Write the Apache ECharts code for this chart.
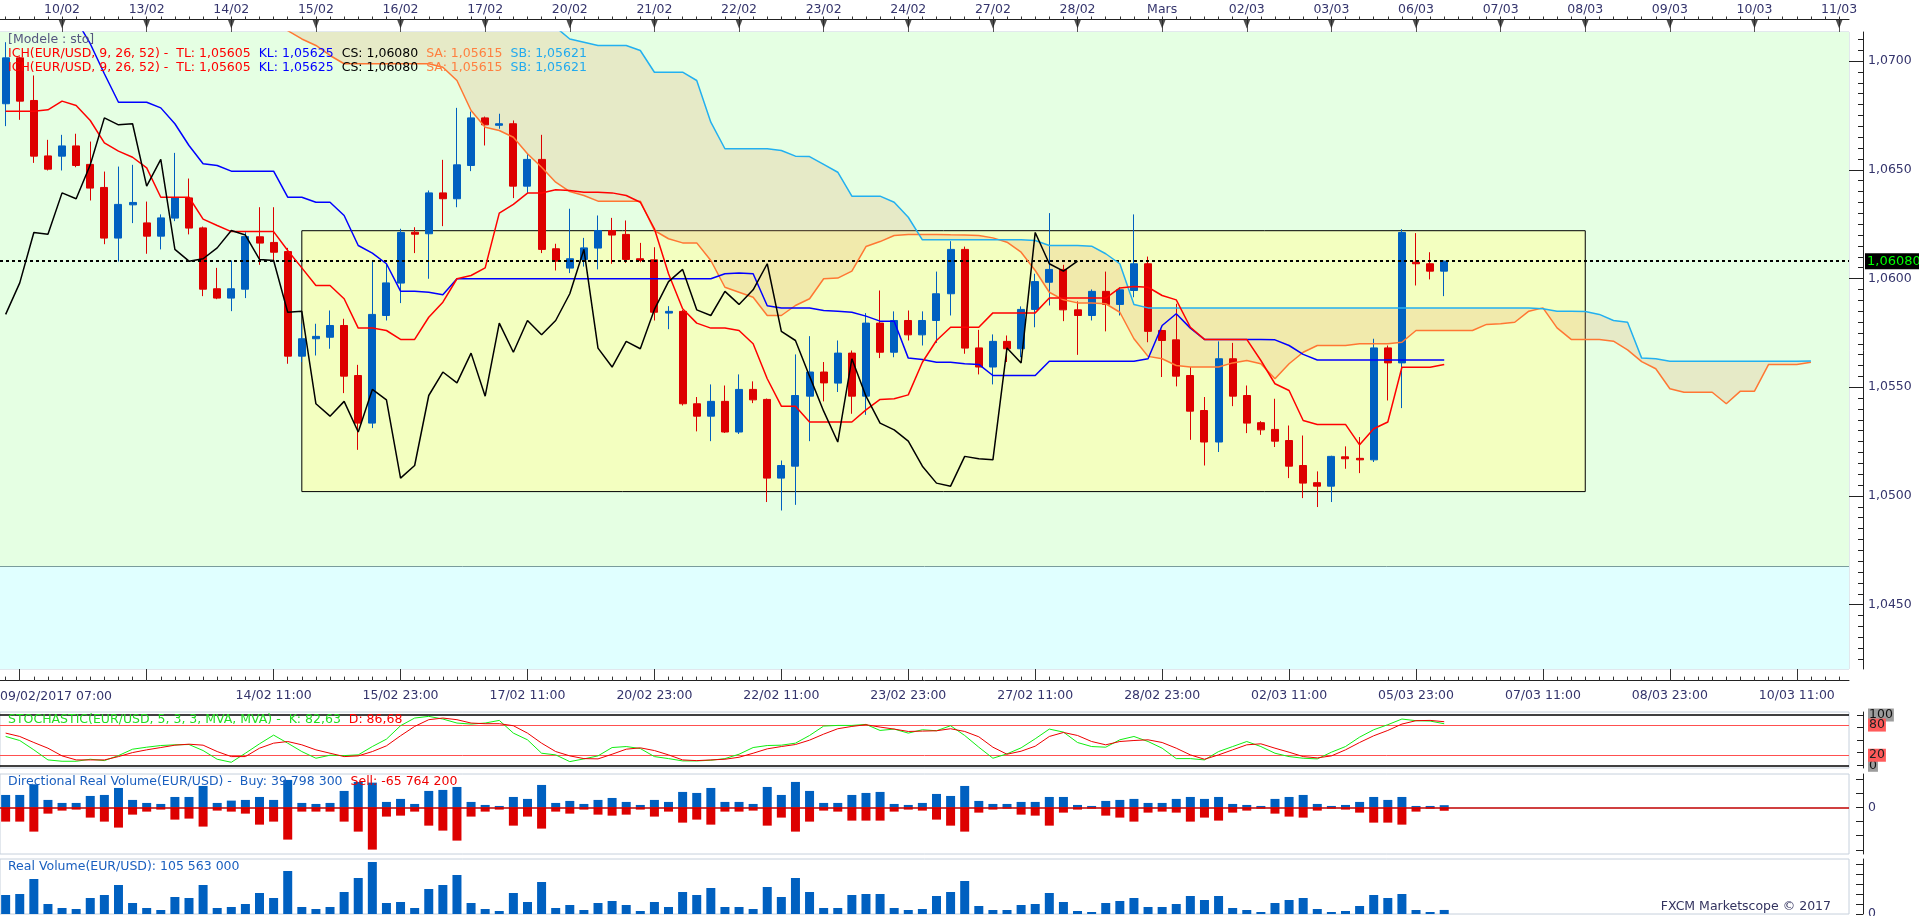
<!DOCTYPE html>
<html><head><meta charset="utf-8">
<script src="https://cdn.jsdelivr.net/npm/echarts@6/dist/echarts.min.js"></script>
<style>html,body{margin:0;padding:0;background:#fff;overflow:hidden}#c{width:1919px;height:916px}</style>
</head><body><div id="c"></div>
<script>
// ---------- DATA (EUR/USD H4, 09/02/2017 07:00 -> 06/03/2017 07:00) ----------
const opens = [1.06804,1.07015,1.06819,1.06564,1.06563,1.0661,1.06525,1.06419,1.06186,1.06339,
 1.06256,1.06195,1.06278,1.06371,1.06233,1.05953,1.0591,1.05951,1.06192,1.06166,
 1.06124,1.05643,1.05723,1.0573,1.05784,1.05554,1.05335,1.0583,1.05979,1.06213,
 1.06206,1.06394,1.06367,1.0652,1.06739,1.06705,1.06712,1.06425,1.06548,1.06137,
 1.06048,1.06088,1.0614,1.06221,1.06203,1.06091,1.06086,1.05841,1.05849,1.05424,
 1.05367,1.05435,1.05294,1.0549,1.05444,1.05082,1.05137,1.05459,1.0557,1.05519,
 1.05657,1.05459,1.05795,1.05661,1.05807,1.05741,1.05807,1.0593,1.06134,1.05681,
 1.05593,1.05711,1.05677,1.05858,1.05983,1.06042,1.05856,1.0583,1.05941,1.05881,
 1.05945,1.06068,1.05761,1.05718,1.05554,1.05393,1.05248,1.05631,1.05462,1.05337,
 1.05306,1.05255,1.0514,1.05061,1.05045,1.0518,1.05173,1.05166,1.05681,1.05612,
 1.06075,1.06068,1.06034];
const closes = [1.07015,1.06816,1.06563,1.06503,1.0661,1.0652,1.06416,1.06186,1.06341,1.0635,
 1.06195,1.06279,1.06371,1.06232,1.05951,1.0591,1.05953,1.06193,1.06163,1.06121,
 1.05643,1.05723,1.05734,1.05784,1.05551,1.05335,1.05835,1.0598,1.06212,1.06204,
 1.06394,1.06367,1.06523,1.06739,1.06707,1.06712,1.06425,1.06548,1.06134,1.0608,
 1.06091,1.06141,1.06221,1.062,1.06088,1.06083,1.05845,1.05849,1.05424,1.05367,
 1.05435,1.05294,1.0549,1.05442,1.05082,1.0514,1.05462,1.0557,1.0552,1.05657,
 1.05459,1.05795,1.05661,1.05807,1.05741,1.05807,1.0593,1.06134,1.0568,1.05593,
 1.05711,1.05677,1.05858,1.05986,1.06042,1.05856,1.0583,1.05941,1.05881,1.05948,
 1.06068,1.05757,1.05715,1.05551,1.0539,1.05248,1.05631,1.05459,1.05335,1.05304,
 1.05252,1.05137,1.05059,1.05045,1.05182,1.05171,1.05166,1.05681,1.05612,1.06212,
 1.06068,1.06034,1.0608];
const lows = [1.06701,1.0673,1.06532,1.06497,1.06497,1.06512,1.06359,1.06158,1.06078,1.06255,
 1.06114,1.06134,1.06264,1.06203,1.05919,1.05905,1.0585,1.0591,1.06063,1.06083,
 1.05608,1.05616,1.05646,1.05677,1.05473,1.05212,1.05312,1.05807,1.05887,1.06117,
 1.05999,1.06241,1.06328,1.06494,1.06612,1.06689,1.0637,1.06394,1.06117,1.06037,
 1.06025,1.06055,1.06042,1.06068,1.06072,1.06075,1.05807,1.05767,1.05416,1.05297,
 1.05252,1.0529,1.05285,1.05427,1.04972,1.04933,1.04959,1.05252,1.05435,1.05478,
 1.05378,1.05373,1.05634,1.05638,1.05715,1.05692,1.05704,1.0583,1.05654,1.05559,
 1.05513,1.05616,1.05638,1.05776,1.05876,1.05804,1.05649,1.05807,1.05757,1.0583,
 1.05914,1.05707,1.05547,1.05504,1.05258,1.0514,1.05202,1.05413,1.05289,1.05281,
 1.05225,1.05082,1.0499,1.04949,1.04972,1.05125,1.05105,1.05156,1.05439,1.05404,
 1.05968,1.05996,1.05919];
const highs = [1.07087,1.0702,1.06934,1.06638,1.06661,1.06666,1.0663,1.06492,1.06515,1.06523,
 1.06354,1.06295,1.06578,1.0646,1.06239,1.06049,1.06083,1.06213,1.06328,1.06328,
 1.06141,1.05792,1.05792,1.05853,1.05815,1.05603,1.06083,1.06068,1.06229,1.06236,
 1.06405,1.06546,1.06785,1.06768,1.06745,1.06758,1.06727,1.06574,1.06661,1.0616,
 1.06321,1.06187,1.0629,1.06279,1.06267,1.06164,1.06144,1.05873,1.05855,1.05455,
 1.05513,1.05508,1.05559,1.05527,1.05448,1.05163,1.05651,1.05735,1.05616,1.05715,
 1.05669,1.05841,1.05945,1.05849,1.05853,1.05849,1.06032,1.06172,1.06147,1.05764,
 1.05743,1.05738,1.05872,1.06022,1.06301,1.06063,1.05895,1.0595,1.06032,1.0596,
 1.06295,1.06101,1.05765,1.05884,1.05593,1.05455,1.05711,1.05704,1.05508,1.05344,
 1.05447,1.05324,1.05278,1.05113,1.05185,1.05228,1.05271,1.05723,1.05692,1.06227,
 1.06209,1.06121,1.06083];
const tenkan = [1.0677,1.0677,1.0677,1.06776,1.06816,1.06796,1.06727,1.06624,1.06586,1.06558,
 1.06509,1.06374,1.06374,1.06374,1.06273,1.06244,1.06216,1.06216,1.06216,1.06216,
 1.06129,1.06049,1.05968,1.05968,1.05907,1.05772,1.05772,1.05761,1.0572,1.0572,
 1.05822,1.05891,1.05999,1.06014,1.06049,1.06301,1.06341,1.06393,1.06393,1.06408,
 1.06405,1.06397,1.06397,1.06394,1.06382,1.06351,1.06229,1.06022,1.05861,1.05795,
 1.05772,1.05772,1.05761,1.0570,1.05539,1.05413,1.05413,1.0534,1.0534,1.0534,
 1.0534,1.05396,1.05444,1.05447,1.05465,1.05615,1.05715,1.05776,1.05776,1.05776,
 1.05842,1.05842,1.05842,1.05842,1.0591,1.0591,1.0591,1.0591,1.0591,1.05957,
 1.05963,1.0596,1.05922,1.05902,1.05776,1.0572,1.0572,1.0572,1.0572,1.05623,
 1.05516,1.05485,1.05347,1.05329,1.05329,1.05329,1.05235,1.05309,1.0534,1.05592,
 1.05592,1.05592,1.05605];
const kijun = [1.0745,1.0745,1.0745,1.0743,1.0731,1.0719,1.0708,1.06942,1.06811,1.06811,
 1.06811,1.06785,1.06712,1.06612,1.06528,1.0652,1.06494,1.06494,1.06494,1.06494,
 1.06374,1.06374,1.06351,1.06351,1.0629,1.06152,1.06117,1.06068,1.05942,1.05942,
 1.05937,1.05925,1.05999,1.05999,1.05999,1.05999,1.05999,1.05999,1.05999,1.05999,
 1.05999,1.05999,1.05999,1.05999,1.05999,1.05999,1.05999,1.05999,1.05999,1.05999,
 1.05999,1.06022,1.06025,1.06022,1.05875,1.05864,1.05864,1.05864,1.05853,1.05849,
 1.05845,1.05827,1.05804,1.05804,1.05634,1.05628,1.05615,1.05615,1.05608,1.05605,
 1.05554,1.05554,1.05554,1.05554,1.0562,1.0562,1.0562,1.0562,1.0562,1.0562,
 1.0562,1.05631,1.05784,1.05838,1.05772,1.0572,1.0572,1.0572,1.0572,1.0572,
 1.05718,1.05692,1.05651,1.05625,1.05625,1.05625,1.05625,1.05625,1.05625,1.05625,
 1.05625,1.05625,1.05625];
// Chikou span = closes plotted 26 periods back (index 0..76)
const chikou = [1.05835,1.0598,1.06212,1.06204,1.06394,1.06367,1.06523,1.06739,1.06707,1.06712,
 1.06425,1.06548,1.06134,1.0608,1.06091,1.06141,1.06221,1.062,1.06088,1.06083,
 1.05845,1.05849,1.05424,1.05367,1.05435,1.05294,1.0549,1.05442,1.05082,1.0514,
 1.05462,1.0557,1.0552,1.05657,1.05459,1.05795,1.05661,1.05807,1.05741,1.05807,
 1.0593,1.06134,1.0568,1.05593,1.05711,1.05677,1.05858,1.05986,1.06042,1.05856,
 1.0583,1.05941,1.05881,1.05948,1.06068,1.05757,1.05715,1.05551,1.0539,1.05248,
 1.05631,1.05459,1.05335,1.05304,1.05252,1.05137,1.05059,1.05045,1.05182,1.05171,
 1.05166,1.05681,1.05612,1.06212,1.06068,1.06034,1.0608];
// Senkou spans, index 0..128 (26 periods ahead of the last candle)
const senkouA = [1.0728,1.0728,1.0728,1.0728,1.0728,1.0728,1.0728,1.0728,1.0728,1.0728,
 1.0728,1.0728,1.0728,1.0728,1.0728,1.0728,1.0728,1.0728,1.0725,1.0721,
 1.0714,1.07102,1.07072,1.07026,1.06988,1.06988,1.06988,1.06988,1.06988,1.06988,
 1.06988,1.06972,1.06911,1.06773,1.06696,1.06681,1.0665,1.06574,1.06512,1.06443,
 1.0640,1.06382,1.06356,1.06356,1.06356,1.06356,1.06221,1.06183,1.06164,1.06164,
 1.06083,1.0596,1.05937,1.05914,1.0583,1.0583,1.05876,1.05907,1.05999,1.06002,
 1.06034,1.06147,1.0617,1.06198,1.06203,1.06203,1.06203,1.06201,1.062,1.06198,
 1.06187,1.06167,1.06121,1.06037,1.05937,1.05902,1.05888,1.05888,1.05884,1.05845,
 1.05723,1.05642,1.05631,1.0560,1.05593,1.05593,1.05593,1.05612,1.05623,1.05608,
 1.05539,1.05608,1.05661,1.05692,1.05692,1.05692,1.0570,1.0570,1.0570,1.05707,
 1.05761,1.05761,1.05761,1.05761,1.05761,1.05789,1.05792,1.05799,1.0585,1.05865,
 1.05773,1.0572,1.0572,1.0572,1.05712,1.05672,1.05618,1.05585,1.05493,1.05477,
 1.05477,1.05477,1.05424,1.05482,1.05482,1.05605,1.05605,1.05605,1.05615];
const senkouB = [1.0730,1.0730,1.0730,1.0730,1.0730,1.0730,1.0730,1.0730,1.0730,1.0730,
 1.0730,1.0730,1.0730,1.0730,1.0730,1.0730,1.0730,1.0730,1.0730,1.0730,
 1.0730,1.0730,1.0730,1.0730,1.0730,1.0730,1.0730,1.0730,1.0730,1.0730,
 1.0730,1.0730,1.0730,1.0730,1.0730,1.0730,1.0730,1.0725,1.0720,1.07156,
 1.07102,1.07087,1.07072,1.07072,1.07072,1.07049,1.06949,1.06949,1.06949,1.06911,
 1.06719,1.06597,1.06597,1.06597,1.06597,1.06589,1.06563,1.06561,1.06525,1.06489,
 1.06379,1.06379,1.06379,1.06351,1.06282,1.06178,1.06178,1.06178,1.06178,1.06178,
 1.06178,1.06178,1.06178,1.06175,1.06152,1.06152,1.06152,1.06149,1.06114,1.06068,
 1.05881,1.05865,1.05865,1.05865,1.05865,1.05865,1.05865,1.05865,1.05865,1.05865,
 1.05865,1.05865,1.05865,1.05865,1.05865,1.05865,1.05865,1.05865,1.05865,1.05865,
 1.05865,1.05865,1.05865,1.05865,1.05865,1.05865,1.05865,1.05865,1.05865,1.05861,
 1.0585,1.0585,1.05848,1.05835,1.05807,1.05799,1.05634,1.05631,1.0562,1.0562,
 1.0562,1.0562,1.0562,1.0562,1.0562,1.0562,1.0562,1.0562,1.05621];
const stochK = [57.3,49.3,30.7,10.7,8,8,12,9.3,19.3,32,
 36,39.3,40.7,41.3,29.3,12,6,24,42.7,60,
 44,27.3,14,20,19.3,20.7,37.3,52,78.7,94,
 97.3,92,84,82,84,89.3,64,50.7,24,20.7,
 7.3,12.7,18.7,35.3,37.3,33.3,17.3,13.3,8.7,8.7,
 10,13.3,22,35.3,39.3,40,44,59.3,78,79.3,
 79.3,81.3,69.3,72,64,70.7,68.7,78.7,59.3,36,
 14,22.7,34.7,52.7,72,66,45.3,37.3,36,50.7,
 57.3,47.3,34,13.3,13.3,10.7,27.3,37.3,47.3,37.3,
 24,17.3,14,12.7,26,37.3,56,70.7,80.7,92,
 88.7,88,82.63];
const stochD = [64,57.3,45.3,34,18.7,10.7,10.7,10.7,17.3,25.3,
 30.7,35.3,40,42,40,27.3,17.3,17.3,34,44,
 47.3,40.7,30.7,24,17.3,18.7,27.3,38.7,58.7,77.3,
 90.7,94,90.7,84,82.7,82.7,78.7,64,44,27.3,
 18.7,13.3,12.7,22,32,34.7,29.3,20.7,10.7,9.3,
 10.7,12,16,24,32.7,37.3,41.3,50,62,72.7,
 77.3,80.7,76,72,67.3,68,68.7,72.7,67.3,56.7,
 36,22,28,38,57.3,65.3,59.3,47.3,40.7,47.3,
 49.3,50.7,45.3,34,20.7,12,20.7,30.7,40.7,42.7,
 34,26,17.3,14.7,18.7,30.7,45.3,58.7,69.3,82,
 88.7,89.3,86.68];
// volumes in millions
const buyVol = [233,233,435,139,82,82,214,233,365,139,
 82,63,195,195,403,82,126,139,195,139,
 517,82,63,82,309,479,466,101,158,63,
 309,328,384,101,44,25,195,158,422,82,
 120,63,139,176,101,44,139,101,290,271,
 365,101,101,63,384,233,479,309,82,82,
 233,271,290,63,44,82,252,214,403,120,
 63,63,101,101,195,195,44,25,120,139,
 158,82,82,158,195,158,195,63,44,25,
 158,195,233,63,25,44,101,195,139,195,
 25,25,39.7983];
const sellVol = [-271,-271,-460,-120,-63,-44,-195,-271,-384,-139,
 -82,-44,-233,-214,-365,-63,-82,-120,-328,-271,
 -611,-82,-82,-82,-271,-460,-800,-176,-158,-82,
 -347,-441,-630,-176,-82,-44,-347,-176,-403,-82,
 -120,-44,-139,-158,-139,-44,-176,-82,-290,-233,
 -328,-82,-82,-63,-347,-195,-460,-271,-63,-82,
 -252,-252,-252,-82,-44,-63,-233,-347,-460,-101,
 -44,-25,-139,-158,-347,-101,-44,-25,-158,-195,
 -271,-101,-82,-101,-271,-195,-252,-101,-63,-25,
 -120,-176,-195,-63,-25,-44,-101,-290,-290,-328,
 -82,-25,-65.7642];
const realVol = [496,522,914,261,157,131,418,496,757,287,
 157,104,444,418,757,157,183,261,548,418,
 1122,183,131,183,574,940,1357,287,313,157,
 653,757,1018,287,131,78,548,313,835,157,
 235,104,287,339,235,78,313,183,574,496,
 679,183,183,131,705,444,940,574,157,157,
 496,522,522,157,104,131,470,574,861,209,
 104,104,235,261,548,313,78,52,287,339,
 418,183,183,261,470,365,470,157,104,52,
 287,365,418,131,52,78,209,496,418,522,
 104,52,105.563];
// axis labels
const dayLabels = ['10/02','13/02','14/02','15/02','16/02','17/02','20/02','21/02','22/02','23/02','24/02','27/02','28/02','Mars','02/03','03/03','06/03','07/03','08/03','09/03','10/03','11/03'];
const dayIdx = [4,10,16,22,28,34,40,46,52,58,64,70,76,82,88,94,100,106,112,118,124,130];
const timeLabels = ['14/02 11:00','15/02 23:00','17/02 11:00','20/02 23:00','22/02 11:00','23/02 23:00','27/02 11:00','28/02 23:00','02/03 11:00','05/03 23:00','07/03 11:00','08/03 23:00','10/03 11:00'];
const timeIdx = [19,28,37,46,55,64,73,82,91,100,109,118,127];
const majorTimeTicks = [1,10,19,28,37,46,55,64,73,82,91,100,109,118,127];
const firstTimeLabel = '09/02/2017 07:00';
const priceTicks = [1.045,1.05,1.055,1.06,1.065,1.07];
const stochOuter = [0,100];
const stochInner = [20,80];
const lastClose = 1.0608;
const zoneLevel = 1.04675;
const boxFrom = [21, 1.0622], boxTo = [112, 1.0502];

// ---------- CHART ----------
const FONT = 'DejaVu Sans', FS = 12.5, NAVY = '#34346c';
const XMIN = -0.4, XMAX = 130.7;
const UP = '#0060c0', DOWN = '#dd0000';
const allIdx = []; for (let i = 0; i <= 130; i++) allIdx.push(i);
const minorPrice = []; for (let k = 0; k <= 60; k++) { const v = +(1.0420 + k * 0.0005).toFixed(4); if (Math.abs(v / 0.005 - Math.round(v / 0.005)) > 1e-6) minorPrice.push(v); }
const dayMap = {}; dayIdx.forEach((d, k) => dayMap[d] = dayLabels[k]);
const timeMap = {}; timeIdx.forEach((d, k) => timeMap[d] = timeLabels[k]);
const pts = (arr) => arr.map((v, i) => [i, v]);
const G = {left: 0, width: 1849, outerBoundsMode: 'none', containLabel: false, show: true, borderColor: '#c6d0dc', borderWidth: 1, backgroundColor: 'transparent'};
const hiddenX = (g) => ({type: 'value', gridIndex: g, min: XMIN, max: XMAX, show: false, axisLine: {onZero: false}});
const tf = {fontFamily: FONT, fontSize: FS, fontWeight: 'normal'};
const ichText = '{r|ICH(EUR/USD, 9, 26, 52) -  TL: 1,05605}  {b|KL: 1,05625}  {k|CS: 1,06080}  {o|SA: 1,05615}  {c|SB: 1,05621}';
const ichRich = {r: Object.assign({color: '#ff0000'}, tf), b: Object.assign({color: '#0000ff'}, tf), k: Object.assign({color: '#000'}, tf), o: Object.assign({color: '#ff7f3f'}, tf), c: Object.assign({color: '#22aaee'}, tf)};

const chart = echarts.init(document.getElementById('c'), null, {width: 1919, height: 916});
chart.setOption({
  animation: false,
  backgroundColor: '#ffffff',
  textStyle: {fontFamily: FONT},
  title: [
    {left: 8, top: 33, padding: 0, text: '[Modele : sto]', textStyle: Object.assign({color: '#55557f'}, tf)},
    {left: 8, top: 47, padding: 0, text: ichText, textStyle: Object.assign({color: '#000', rich: ichRich}, tf)},
    {left: 8, top: 61, padding: 0, text: ichText, textStyle: Object.assign({color: '#000', rich: ichRich}, tf)},
    {left: 0, top: 690, padding: 0, text: firstTimeLabel, textStyle: Object.assign({color: NAVY}, tf)},
    {left: 8, top: 713, padding: 0, text: '{g|STOCHASTIC(EUR/USD, 5, 3, 3, MVA, MVA) -  K: 82,63}  {r|D: 86,68}',
      textStyle: Object.assign({rich: {g: Object.assign({color: '#22dd22'}, tf), r: Object.assign({color: '#ff0000'}, tf)}}, tf)},
    {left: 8, top: 775, padding: 0, text: '{b|Directional Real Volume(EUR/USD) -  Buy: 39 798 300}  {r|Sell: -65 764 200}',
      textStyle: Object.assign({rich: {b: Object.assign({color: '#1a5fbf'}, tf), r: Object.assign({color: '#ee0000'}, tf)}}, tf)},
    {left: 8, top: 860, padding: 0, text: 'Real Volume(EUR/USD): 105 563 000', textStyle: Object.assign({color: '#1a5fbf'}, tf)},
    {right: 88, top: 900, padding: 0, text: 'FXCM Marketscope © 2017', textStyle: Object.assign({color: '#33335f'}, tf)}
  ],
  grid: [
    Object.assign({}, G, {top: 32, height: 637}),
    Object.assign({}, G, {top: 19.5, height: 12.5, show: false}),
    Object.assign({}, G, {top: 712, height: 56}),
    Object.assign({}, G, {top: 774, height: 80}),
    Object.assign({}, G, {top: 859, height: 55})
  ],
  xAxis: [
    {type: 'value', gridIndex: 0, min: XMIN, max: XMAX, position: 'bottom', offset: 11.6,
      axisLine: {show: true, onZero: false, lineStyle: {color: '#222', width: 1}},
      axisTick: {show: true, inside: true, length: 4, customValues: allIdx, lineStyle: {color: '#333'}},
      axisLabel: {show: true, hideOverlap: false, customValues: timeIdx, margin: 9, color: NAVY, fontFamily: FONT, fontSize: FS, formatter: v => timeMap[Math.round(v)] || ''},
      splitLine: {show: false}},
    {type: 'value', gridIndex: 0, min: XMIN, max: XMAX, position: 'bottom', offset: 11.6,
      axisLine: {show: false, onZero: false},
      axisTick: {show: true, inside: true, length: 11.6, customValues: majorTimeTicks, lineStyle: {color: '#333'}},
      axisLabel: {show: false}, splitLine: {show: false}},
    {type: 'value', gridIndex: 1, min: XMIN, max: XMAX, position: 'top',
      axisLine: {show: true, onZero: false, lineStyle: {color: '#222', width: 1}},
      axisTick: {show: true, inside: false, length: 3, customValues: allIdx, lineStyle: {color: '#333'}},
      axisLabel: {show: true, hideOverlap: false, customValues: dayIdx, margin: 3, color: NAVY, fontFamily: FONT, fontSize: FS, formatter: v => dayMap[Math.round(v)] || ''},
      splitLine: {show: false}},
    {type: 'value', gridIndex: 1, min: XMIN, max: XMAX, position: 'top',
      axisLine: {show: false, onZero: false},
      axisTick: {show: true, inside: true, length: 12.5, customValues: dayIdx, lineStyle: {color: '#555'}},
      axisLabel: {show: false}, splitLine: {show: false}},
    hiddenX(2), hiddenX(3), hiddenX(4)
  ],
  yAxis: [
    {type: 'value', gridIndex: 0, min: 1.04204, max: 1.07134, position: 'right', offset: 14,
      axisLine: {show: true, onZero: false, lineStyle: {color: '#222'}},
      axisTick: {show: true, inside: true, length: 14, customValues: priceTicks, lineStyle: {color: '#222'}},
      axisLabel: {show: true, hideOverlap: false, customValues: priceTicks, margin: 5, color: NAVY, fontFamily: FONT, fontSize: FS, formatter: v => v.toFixed(4).replace('.', ',')},
      splitLine: {show: false}},
    {type: 'value', gridIndex: 0, min: 1.04204, max: 1.07134, position: 'right', offset: 14,
      axisLine: {show: false, onZero: false},
      axisTick: {show: true, inside: true, length: 5, customValues: minorPrice, lineStyle: {color: '#222'}},
      axisLabel: {show: false}, splitLine: {show: false}},
    {type: 'value', gridIndex: 1, min: 0, max: 1, show: false, axisLine: {onZero: false}},
    {type: 'value', gridIndex: 2, min: -5.4, max: 106, position: 'right', offset: 14,
      axisLine: {show: true, onZero: false, lineStyle: {color: '#222'}},
      axisTick: {show: true, inside: true, length: 6, customValues: [0, 25, 50, 75, 100], lineStyle: {color: '#222'}},
      axisLabel: {show: true, hideOverlap: false, customValues: stochOuter, margin: 5, fontFamily: FONT, fontSize: FS,
        formatter: v => '{g|' + Math.round(v) + '}',
        rich: {g: {backgroundColor: '#9c9c9c', color: '#111', fontFamily: FONT, fontSize: FS, padding: [0, 1, 0, 1]}}},
      splitLine: {show: false}},
    {type: 'value', gridIndex: 3, min: -883, max: 629, position: 'right', offset: 14,
      axisLine: {show: true, onZero: false, lineStyle: {color: '#222'}},
      axisTick: {show: true, inside: true, length: 7, customValues: [-804, -536, -268, 0, 268, 536], lineStyle: {color: '#222'}},
      axisLabel: {show: true, hideOverlap: false, customValues: [0], margin: 5, color: NAVY, fontFamily: FONT, fontSize: FS, formatter: () => '0'},
      splitLine: {show: false}},
    {type: 'value', gridIndex: 4, min: 0, max: 1435, position: 'right', offset: 14,
      axisLine: {show: true, onZero: false, lineStyle: {color: '#222'}},
      axisTick: {show: true, inside: true, length: 7, customValues: [0, 261, 522, 783, 1044, 1305], lineStyle: {color: '#222'}},
      axisLabel: {show: true, hideOverlap: false, showMinLabel: true, customValues: [0], margin: 5, color: NAVY, fontFamily: FONT, fontSize: FS, formatter: () => '0'},
      splitLine: {show: false}},
    {type: 'value', gridIndex: 2, min: -5.4, max: 106, position: 'right', offset: 14,
      axisLine: {show: false, onZero: false}, axisTick: {show: false},
      axisLabel: {show: true, hideOverlap: false, customValues: stochInner, margin: 5, fontFamily: FONT, fontSize: FS,
        formatter: v => '{r|' + Math.round(v) + '}',
        rich: {r: {backgroundColor: '#ff5a5a', color: '#222', fontFamily: FONT, fontSize: FS, padding: [0, 1, 0, 1]}}},
      splitLine: {show: false}}
  ],
  series: [
    // backgrounds
    {type: 'line', xAxisIndex: 0, yAxisIndex: 0, data: [], z: 1, silent: true,
      markArea: {silent: true, precision: 6, data: [
        [{yAxis: zoneLevel, itemStyle: {color: '#e5ffe3'}}, {yAxis: 1.07134}],
        [{yAxis: 1.04204, itemStyle: {color: '#e0ffff'}}, {yAxis: zoneLevel}]
      ]},
      markLine: {silent: true, precision: 6, symbol: ['none', 'none'], label: {show: false}, lineStyle: {color: '#7a9c9c', width: 1, type: 'solid'}, data: [{yAxis: zoneLevel}]}},
    {type: 'line', xAxisIndex: 0, yAxisIndex: 0, data: [], z: 2, silent: true,
      markArea: {silent: true, precision: 6, itemStyle: {color: '#f3ffc0', borderColor: '#000', borderWidth: 1},
        data: [[{xAxis: boxFrom[0], yAxis: boxFrom[1]}, {xAxis: boxTo[0], yAxis: boxTo[1]}]]}},
    // kumo
    {type: 'custom', xAxisIndex: 0, yAxisIndex: 0, z: 3, silent: true, clip: true, data: [[50, 1.06]],
      renderItem: (params, api) => {
        const poly = [];
        for (let i = 0; i < senkouA.length; i++) poly.push(api.coord([i, senkouA[i]]));
        for (let i = senkouB.length - 1; i >= 0; i--) poly.push(api.coord([i, senkouB[i]]));
        return {type: 'polygon', shape: {points: poly}, style: {fill: 'rgba(235,160,100,0.22)'}};
      }},
    // candles
    {type: 'candlestick', xAxisIndex: 0, yAxisIndex: 0, z: 4, barWidth: 7.5,
      dimensions: ['idx', 'open', 'close', 'lowest', 'highest'],
      encode: {x: 'idx', y: ['open', 'close', 'lowest', 'highest']},
      itemStyle: {color: UP, color0: DOWN, borderColor: UP, borderColor0: DOWN, borderWidth: 1},
      data: opens.map((o, i) => [i, o, closes[i], lows[i], highs[i]])},
    // ichimoku lines
    {type: 'line', xAxisIndex: 0, yAxisIndex: 0, z: 5, data: pts(senkouA), symbol: 'none', lineStyle: {color: '#ff7733', width: 1.5}},
    {type: 'line', xAxisIndex: 0, yAxisIndex: 0, z: 5, data: pts(senkouB), symbol: 'none', lineStyle: {color: '#22b0f0', width: 1.5}},
    {type: 'line', xAxisIndex: 0, yAxisIndex: 0, z: 5, data: pts(kijun), symbol: 'none', lineStyle: {color: '#0000ff', width: 1.5}},
    {type: 'line', xAxisIndex: 0, yAxisIndex: 0, z: 5, data: pts(tenkan), symbol: 'none', lineStyle: {color: '#ff0000', width: 1.5}},
    {type: 'line', xAxisIndex: 0, yAxisIndex: 0, z: 5, data: pts(chikou), symbol: 'none', lineStyle: {color: '#000000', width: 1.5}},
    // current close line
    {type: 'line', xAxisIndex: 0, yAxisIndex: 0, data: [], z: 6, silent: true,
      markLine: {silent: true, precision: 6, symbol: ['none', 'none'], lineStyle: {color: '#000', width: 2, type: [3, 3]},
        label: {show: true, position: 'end', distance: 16, formatter: '1,06080', color: '#00ff00', backgroundColor: '#000', padding: [2, 2, 1, 2], fontFamily: FONT, fontSize: 13},
        data: [{yAxis: lastClose}]}},
    // day triangles on top axis
    {type: 'scatter', xAxisIndex: 2, yAxisIndex: 2, z: 5, silent: true, data: dayIdx.map(d => [d, 0.64]),
      symbol: 'triangle', symbolRotate: 180, symbolSize: [7, 9], itemStyle: {color: '#222'}},
    // stochastic
    {type: 'line', xAxisIndex: 4, yAxisIndex: 3, z: 5, data: pts(stochK), symbol: 'none', lineStyle: {color: '#11ee11', width: 1},
      markLine: {silent: true, precision: 4, symbol: ['none', 'none'], label: {show: false}, data: [
        {yAxis: 100, lineStyle: {color: '#000', width: 1.5, type: 'solid'}},
        {yAxis: 0, lineStyle: {color: '#000', width: 1.5, type: 'solid'}},
        {yAxis: 80, lineStyle: {color: '#ff5050', width: 1, type: 'solid'}},
        {yAxis: 20, lineStyle: {color: '#ff5050', width: 1, type: 'solid'}}]}},
    {type: 'line', xAxisIndex: 4, yAxisIndex: 3, z: 6, data: pts(stochD), symbol: 'none', lineStyle: {color: '#ee0000', width: 1}},
    // directional volume
    {type: 'bar', xAxisIndex: 5, yAxisIndex: 4, z: 4, data: pts(buyVol), barWidth: 9, barGap: '-100%', itemStyle: {color: UP}},
    {type: 'bar', xAxisIndex: 5, yAxisIndex: 4, z: 4, data: pts(sellVol), barWidth: 9, barGap: '-100%', itemStyle: {color: DOWN},
      markLine: {silent: true, symbol: ['none', 'none'], label: {show: false}, lineStyle: {color: '#c00000', width: 1.5, type: 'solid'}, data: [{yAxis: 0}]}},
    // real volume
    {type: 'bar', xAxisIndex: 6, yAxisIndex: 5, z: 4, data: pts(realVol), barWidth: 9, itemStyle: {color: UP}}
  ]
});
</script>
</body></html>
